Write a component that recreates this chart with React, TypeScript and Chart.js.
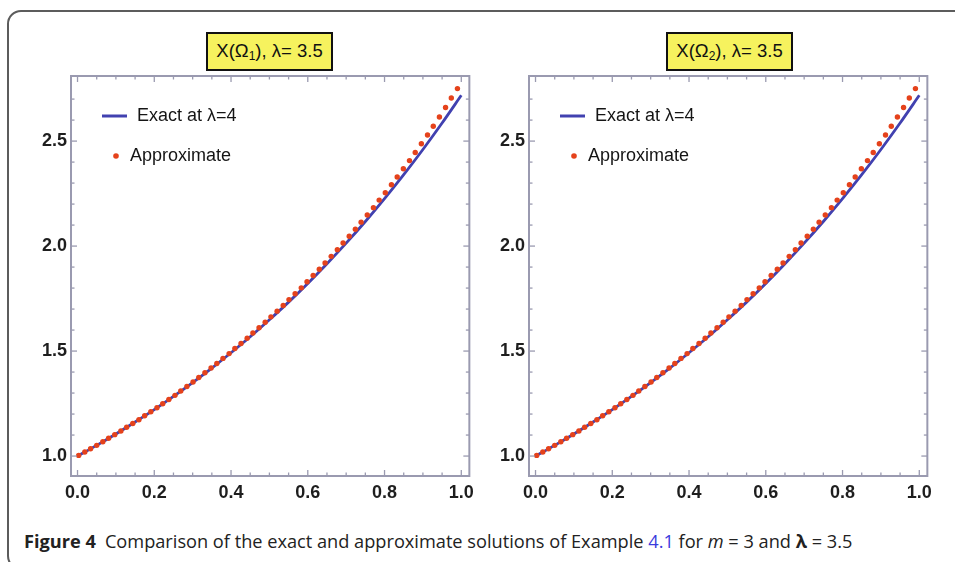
import React, { useEffect, useRef } from "react";
import { Chart, registerables } from "chart.js";

Chart.register(...registerables);

// ---------- data ----------
const EXACT_X = [0, 0.05, 0.1, 0.15, 0.2, 0.25, 0.3, 0.35, 0.4, 0.45, 0.5, 0.55, 0.6, 0.65, 0.7, 0.75, 0.8, 0.85, 0.9, 0.95, 1.0];
const EXACT_Y = [1.0, 1.051, 1.105, 1.162, 1.221, 1.284, 1.35, 1.419, 1.492, 1.568, 1.649, 1.733, 1.822, 1.916, 2.014, 2.117, 2.226, 2.34, 2.46, 2.586, 2.718];

const APPROX_X = [
  0.003, 0.019, 0.034, 0.05, 0.066, 0.081, 0.097, 0.113, 0.128, 0.144, 0.16, 0.175, 0.191, 0.207, 0.222, 0.238,
  0.254, 0.269, 0.285, 0.301, 0.316, 0.332, 0.348, 0.363, 0.379, 0.395, 0.41, 0.426, 0.442, 0.457, 0.473, 0.489,
  0.504, 0.52, 0.536, 0.551, 0.567, 0.583, 0.598, 0.614, 0.63, 0.645, 0.661, 0.677, 0.692, 0.708, 0.724, 0.739,
  0.755, 0.771, 0.786, 0.802, 0.818, 0.833, 0.849, 0.865, 0.88, 0.896, 0.912, 0.927, 0.943, 0.959, 0.974, 0.99,
];
const APPROX_Y1 = [
  1.003, 1.019, 1.035, 1.051, 1.068, 1.085, 1.102, 1.119, 1.137, 1.155, 1.173, 1.192, 1.211, 1.23, 1.249, 1.269,
  1.289, 1.31, 1.331, 1.353, 1.374, 1.397, 1.419, 1.441, 1.465, 1.488, 1.512, 1.536, 1.561, 1.586, 1.611, 1.637,
  1.663, 1.69, 1.717, 1.745, 1.773, 1.801, 1.83, 1.86, 1.89, 1.92, 1.951, 1.983, 2.015, 2.047, 2.08, 2.114,
  2.148, 2.183, 2.219, 2.254, 2.292, 2.329, 2.368, 2.407, 2.446, 2.487, 2.529, 2.571, 2.615, 2.66, 2.705, 2.75,
];
const APPROX_Y2 = [
  1.003, 1.019, 1.035, 1.051, 1.068, 1.085, 1.102, 1.119, 1.137, 1.155, 1.173, 1.192, 1.211, 1.23, 1.249, 1.269,
  1.289, 1.31, 1.331, 1.353, 1.374, 1.397, 1.419, 1.441, 1.465, 1.488, 1.512, 1.536, 1.561, 1.586, 1.611, 1.637,
  1.663, 1.69, 1.717, 1.745, 1.773, 1.801, 1.83, 1.86, 1.89, 1.92, 1.951, 1.983, 2.015, 2.047, 2.08, 2.114,
  2.148, 2.183, 2.219, 2.254, 2.292, 2.329, 2.368, 2.407, 2.446, 2.487, 2.529, 2.571, 2.615, 2.66, 2.705, 2.75,
];

const X_TICKS = [0, 0.2, 0.4, 0.6, 0.8, 1.0];
const X_MINOR = [0.05, 0.1, 0.15, 0.25, 0.3, 0.35, 0.45, 0.5, 0.55, 0.65, 0.7, 0.75, 0.85, 0.9, 0.95];
const Y_TICKS = [1.0, 1.5, 2.0, 2.5];
const Y_MINOR = [1.1, 1.2, 1.3, 1.4, 1.6, 1.7, 1.8, 1.9, 2.1, 2.2, 2.3, 2.4, 2.6, 2.7];

const LEGEND_LABELS = ["Exact at λ=4", "Approximate"];

// ---------- style ----------
const LINE_COLOR = "#4141b0";
const DOT_COLOR = "#e5421b";
const FRAME_COLOR = "#9a9ab0";
const TICK_FONT = { family: '"Liberation Sans", Arial, sans-serif', size: 18, weight: "bold" as const };

const frameTicksPlugin = {
  id: "frameTicks",
  afterDatasetsDraw(chart: any) {
    const { ctx, chartArea: a, scales } = chart;
    const x = scales.x;
    const y = scales.y;
    ctx.save();
    ctx.strokeStyle = FRAME_COLOR;
    ctx.lineWidth = 1.3;
    const seg = (x1: number, y1: number, x2: number, y2: number) => {
      ctx.beginPath();
      ctx.moveTo(x1, y1);
      ctx.lineTo(x2, y2);
      ctx.stroke();
    };
    const xt = (v: number, len: number) => {
      const p = x.getPixelForValue(v);
      seg(p, a.bottom, p, a.bottom - len);
      seg(p, a.top, p, a.top + len);
    };
    const yt = (v: number, len: number) => {
      const p = y.getPixelForValue(v);
      seg(a.left, p, a.left + len, p);
      seg(a.right, p, a.right - len, p);
    };
    X_TICKS.forEach((v) => xt(v, 6));
    X_MINOR.forEach((v) => xt(v, 3.5));
    Y_TICKS.forEach((v) => yt(v, 6));
    Y_MINOR.forEach((v) => yt(v, 3.5));
    ctx.lineWidth = 2;
    ctx.strokeRect(a.left, a.top, a.right - a.left, a.bottom - a.top);

    // legend
    const lx = a.left + 31;
    const ly1 = a.top + 40;
    const ly2 = a.top + 80;
    ctx.strokeStyle = LINE_COLOR;
    ctx.lineWidth = 3;
    seg(lx, ly1, lx + 25, ly1);
    ctx.fillStyle = DOT_COLOR;
    ctx.beginPath();
    ctx.arc(lx + 14, ly2, 2.8, 0, Math.PI * 2);
    ctx.fill();
    ctx.fillStyle = "#151515";
    ctx.font = '18px "Liberation Sans", Arial, sans-serif';
    ctx.textBaseline = "middle";
    ctx.textAlign = "left";
    ctx.fillText(LEGEND_LABELS[0], lx + 35, ly1);
    ctx.fillText(LEGEND_LABELS[1], lx + 28, ly2);
    ctx.restore();
  },
};

function makePoints(xs: number[], ys: number[]) {
  return xs.map((v, i) => ({ x: v, y: ys[i] }));
}

function Panel({ left, approx }: { left: number; approx: number[] }) {
  const ref = useRef<HTMLCanvasElement>(null);
  useEffect(() => {
    if (!ref.current) return;
    const chart = new Chart(ref.current, {
      type: "scatter",
      data: {
        datasets: [
          {
            label: LEGEND_LABELS[1],
            data: makePoints(APPROX_X, approx),
            pointRadius: 2.7,
            pointBackgroundColor: DOT_COLOR,
            pointBorderWidth: 0,
            showLine: false,
          },
          {
            label: LEGEND_LABELS[0],
            data: makePoints(EXACT_X, EXACT_Y),
            showLine: true,
            pointRadius: 0,
            borderColor: LINE_COLOR,
            borderWidth: 2.8,
            cubicInterpolationMode: "monotone",
            fill: false,
          } as any,
        ],
      },
      options: {
        animation: false,
        responsive: false,
        events: [],
        layout: { padding: { top: 76, right: 10, left: 0, bottom: 0 } },
        plugins: { legend: { display: false }, title: { display: false }, tooltip: { enabled: false } },
        scales: {
          x: {
            type: "linear",
            min: -0.017,
            max: 1.021,
            grid: { display: false, drawTicks: false },
            border: { display: false },
            afterBuildTicks: (s: any) => {
              s.ticks = X_TICKS.map((v) => ({ value: v }));
            },
            afterFit: (s: any) => {
              s.height = 44;
            },
            ticks: {
              autoSkip: false,
              maxRotation: 0,
              padding: 6,
              color: "#1e1e1e",
              font: TICK_FONT,
              callback: (v: any) => Number(v).toFixed(1),
            },
          },
          y: {
            type: "linear",
            min: 0.905,
            max: 2.81,
            grid: { display: false, drawTicks: false },
            border: { display: false },
            afterBuildTicks: (s: any) => {
              s.ticks = Y_TICKS.map((v) => ({ value: v }));
            },
            afterFit: (s: any) => {
              s.width = 71;
            },
            ticks: {
              autoSkip: false,
              padding: 4,
              color: "#1e1e1e",
              font: TICK_FONT,
              callback: (v: any) => Number(v).toFixed(1),
            },
          },
        },
      },
      plugins: [frameTicksPlugin],
    });
    return () => chart.destroy();
  }, [approx]);
  return (
    <canvas
      ref={ref}
      width={480}
      height={520}
      style={{ position: "absolute", left, top: 0, width: 480, height: 520 }}
    />
  );
}

function TitleBox({ left, sub }: { left: number; sub: string }) {
  return (
    <div
      style={{
        position: "absolute",
        left,
        top: 32,
        width: 127,
        height: 39,
        boxSizing: "border-box",
        border: "2px solid #111",
        background: "#f6f25e",
        display: "flex",
        alignItems: "center",
        justifyContent: "center",
        fontFamily: '"Liberation Sans", Arial, sans-serif',
        fontSize: 18.5,
        color: "#111",
        whiteSpace: "nowrap",
      }}
    >
      <span>
        X(Ω<sub style={{ fontSize: 12, verticalAlign: "-3px" }}>{sub}</sub>), λ= 3.5
      </span>
    </div>
  );
}

export default function App() {
  return (
    <div
      style={{
        position: "absolute",
        left: 0,
        top: 0,
        width: 955,
        height: 562,
        overflow: "hidden",
        background: "#fff",
      }}
    >
      <div
        style={{
          position: "absolute",
          left: 7,
          top: 10,
          width: 990,
          height: 560,
          boxSizing: "border-box",
          border: "2px solid #5c5c5c",
          borderRadius: 14,
        }}
      />
      <Panel left={0} approx={APPROX_Y1} />
      <Panel left={458} approx={APPROX_Y2} />
      <TitleBox left={206} sub="1" />
      <TitleBox left={666} sub="2" />
      <div
        style={{
          position: "absolute",
          left: 24,
          top: 529,
          fontFamily: '"Open Sans", "Noto Sans", sans-serif',
          fontSize: 18.2,
          lineHeight: "24px",
          color: "#222",
          whiteSpace: "nowrap",
        }}
      >
        <span style={{ fontWeight: 700, marginRight: 9 }}>Figure 4</span>
        Comparison of the exact and approximate solutions of Example{" "}
        <span style={{ color: "#3b3bdd" }}>4.1</span> for <i>m</i> = 3 and{" "}
        <b>λ</b> = 3.5
      </div>
    </div>
  );
}
